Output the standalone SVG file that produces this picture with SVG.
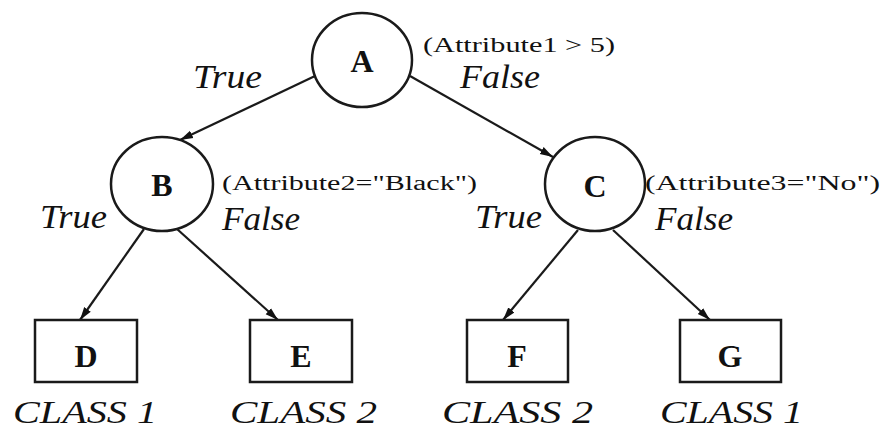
<svg xmlns="http://www.w3.org/2000/svg" width="884" height="432" viewBox="0 0 884 432">
<defs>
<marker id="arr" markerUnits="userSpaceOnUse" markerWidth="14" markerHeight="10" refX="13" refY="5" orient="auto">
<path d="M0,1 L13,5 L0,9 Z" fill="#111"/>
</marker>
<style>
.node{fill:#fff;stroke:#1a1a1a;stroke-width:2.5}
.id{font-family:"Liberation Serif","Times New Roman",serif;font-weight:bold;font-size:32px;fill:#111;text-anchor:middle}
.lab{font-family:"Liberation Serif","Times New Roman",serif;font-style:italic;font-size:34px;fill:#111}
.cls{font-family:"Liberation Serif","Times New Roman",serif;font-style:italic;font-size:31px;fill:#111}
.cond{font-family:"Liberation Serif","Times New Roman",serif;font-size:20px;fill:#111}
.edge{stroke:#1a1a1a;stroke-width:2.2;fill:none;marker-end:url(#arr)}
</style>
</defs>
<rect width="884" height="432" fill="#fff"/>
<g id="connectors">
<line class="edge" x1="315" y1="76" x2="180" y2="140"/>
<line class="edge" x1="410" y1="76" x2="553" y2="157"/>
<line class="edge" x1="144" y1="229" x2="80" y2="320"/>
<line class="edge" x1="177" y1="229" x2="278" y2="320"/>
<line class="edge" x1="578" y1="230" x2="503" y2="320"/>
<line class="edge" x1="613" y1="230" x2="710" y2="320"/>
</g>
<g id="node-A">
<ellipse class="node" cx="362" cy="60" rx="50" ry="47"/>
<text class="id" x="362" y="72">A</text>
<text class="cond" x="423" y="52" textLength="192" lengthAdjust="spacingAndGlyphs">(Attribute1 &gt; 5)</text>
<text class="lab" x="193" y="88" textLength="69" lengthAdjust="spacingAndGlyphs">True</text>
<text class="lab" x="460" y="88" textLength="80" lengthAdjust="spacingAndGlyphs">False</text>
</g>
<g id="node-B">
<ellipse class="node" cx="162" cy="184" rx="51" ry="47"/>
<text class="id" x="162" y="196">B</text>
<text class="cond" x="222" y="190" textLength="255" lengthAdjust="spacingAndGlyphs">(Attribute2="Black")</text>
<text class="lab" x="40" y="228" textLength="67" lengthAdjust="spacingAndGlyphs">True</text>
<text class="lab" x="222" y="230" textLength="78" lengthAdjust="spacingAndGlyphs">False</text>
</g>
<g id="node-C">
<ellipse class="node" cx="595" cy="184" rx="50" ry="47"/>
<text class="id" x="595" y="197">C</text>
<text class="cond" x="645" y="190" textLength="235" lengthAdjust="spacingAndGlyphs">(Attribute3="No")</text>
<text class="lab" x="475" y="228" textLength="67" lengthAdjust="spacingAndGlyphs">True</text>
<text class="lab" x="655" y="230" textLength="78" lengthAdjust="spacingAndGlyphs">False</text>
</g>
<g id="node-D">
<rect class="node" x="35" y="320" width="102" height="62"/>
<text class="id" x="86" y="367">D</text>
<text class="cls" x="13" y="423" textLength="144" lengthAdjust="spacingAndGlyphs">CLASS 1</text>
</g>
<g id="node-E">
<rect class="node" x="250" y="320" width="102" height="62"/>
<text class="id" x="301" y="367">E</text>
<text class="cls" x="230" y="423" textLength="147" lengthAdjust="spacingAndGlyphs">CLASS 2</text>
</g>
<g id="node-F">
<rect class="node" x="467" y="320" width="101" height="62"/>
<text class="id" x="517" y="367">F</text>
<text class="cls" x="442" y="423" textLength="151" lengthAdjust="spacingAndGlyphs">CLASS 2</text>
</g>
<g id="node-G">
<rect class="node" x="680" y="320" width="101" height="62"/>
<text class="id" x="730" y="367">G</text>
<text class="cls" x="660" y="423" textLength="143" lengthAdjust="spacingAndGlyphs">CLASS 1</text>
</g>
</svg>
